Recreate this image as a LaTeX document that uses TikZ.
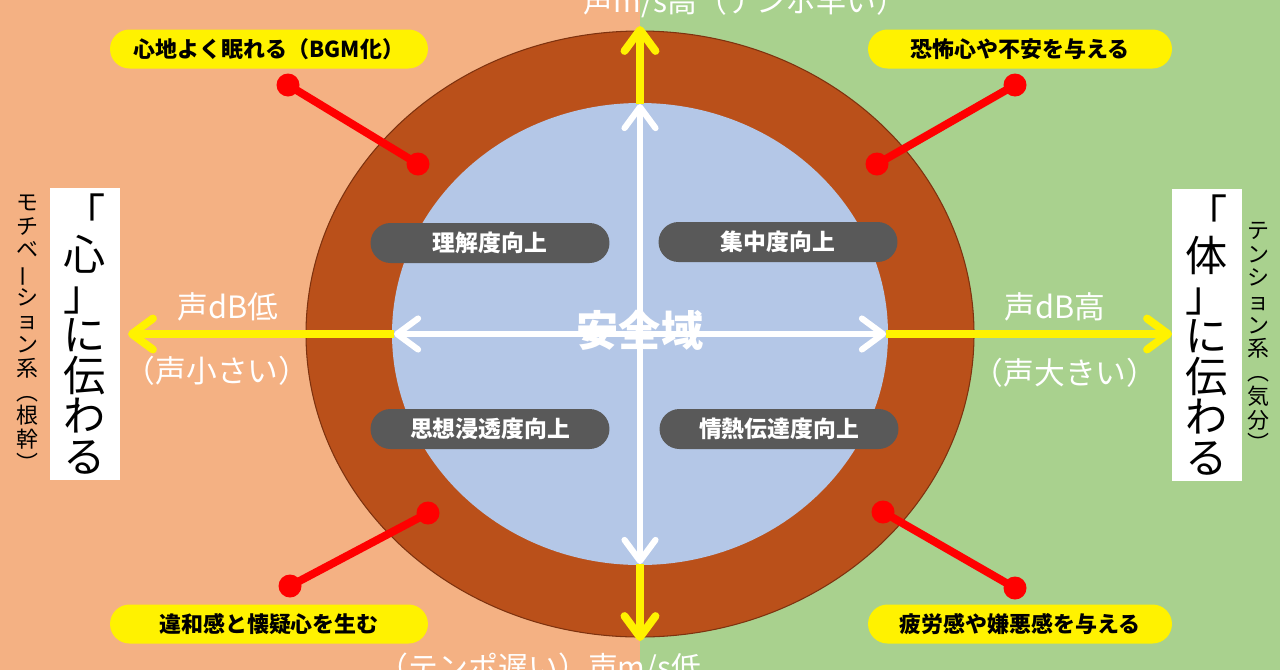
\documentclass[tikz,border=0pt]{standalone}
\usepackage{fontspec}
\setmainfont{Noto Sans CJK JP}
\usepackage{graphicx}
\usetikzlibrary{arrows.meta, positioning}
\definecolor{Salmon}{HTML}{F4B183}
\definecolor{Leaf}{HTML}{A9D18E}
\definecolor{SafeBlue}{HTML}{B4C7E7}
\definecolor{Ring}{RGB}{186,80,26}
\definecolor{RingDark}{RGB}{125,50,15}
\definecolor{PillGray}{HTML}{595959}

\begin{document}
\begin{tikzpicture}[x=0.02cm, y=-0.02cm,
                    pill/.style={rectangle, rounded corners=0.4cm, fill=PillGray, text=white, font=\fontsize{13}{15}\selectfont\bfseries, minimum width=4.78cm, minimum height=0.8cm},
                    callout/.style={rectangle, rounded corners=0.39cm, fill=yellow, font=\fontsize{12.5}{15}\selectfont\bfseries, minimum height=0.78cm},
                    vlabel/.style={text=white, font=\fontsize{17.5}{19}\selectfont},
                    vbox/.style={rectangle, fill=white, minimum width=1.4cm, minimum height=5.84cm, inner sep=0pt, align=center, font=\fontsize{24}{23}\selectfont},
                    sidetext/.style={align=center, inner sep=0pt, font=\fontsize{12.5}{13.5}\selectfont},
                    yarrow/.style={-{Straight Barb[round, length=0.42cm, width=0.62cm]}, line width=4.5pt, draw=yellow},
                    warrow/.style={{Straight Barb[round, length=0.42cm, width=0.62cm]}-{Straight Barb[round, length=0.42cm, width=0.62cm]}, line width=3.5pt, draw=white},
                    redline/.style={draw=red, line width=4.5pt},
                    reddot/.style={fill=red}
                ]
                    \useasboundingbox (0,0) rectangle (1280,670);
                    \fill[Salmon] (0,0) rectangle (640,670);
                    \fill[Leaf] (640,0) rectangle (1280,670);

                    % outer ring and safe zone
                    \filldraw[fill=Ring, draw=RingDark, line width=0.6pt] (640,334) ellipse [x radius=334, y radius=303];
                    \fill[SafeBlue] (640,334) ellipse [x radius=248, y radius=231];

                    \coordinate (wW) at (394,334);
                    \coordinate (wE) at (886,334);
                    \coordinate (wN) at (640,104);
                    \coordinate (wS) at (640,564);
                    \coordinate (yW) at (128,334);
                    \coordinate (yE) at (1172,334);
                    \coordinate (yN) at (640,26);
                    \coordinate (yS) at (640,641);

                    \draw[yarrow] (wW) -- (yW);
                    \draw[yarrow] (wE) -- (yE);
                    \draw[yarrow] (wN) -- (yN);
                    \draw[yarrow] (wS) -- (yS);
                    \draw[warrow] (wW) -- (wE);
                    \draw[warrow] (wN) -- (wS);

                    \node[pill] (rikai) at (490,243) {理解度向上};
                    \node[pill] (shuchu) at (778,242) {集中度向上};
                    \node[pill] (shiso) at (490,429) {思想浸透度向上};
                    \node[pill] (jonetsu) at (779,429) {情熱伝達度向上};

                    \node[text=white, font=\fontsize{24}{26}\selectfont\bfseries] (safe) at (640,330) {安全域};

                    \node[vlabel] (lowdb) at (228,307) {声dB低};
                    \node[vlabel] (quiet) at (217,371) {（声小さい）};
                    \node[vlabel] (highdb) at (1055,307) {声dB高};
                    \node[vlabel] (loud) at (1065,373) {（声大きい）};
                    \node[vlabel, font=\fontsize{17}{19}\selectfont] (fast) at (745,2) {声m/s高（テンポ早い）};
                    \node[vlabel, font=\fontsize{17}{19}\selectfont] (slow) at (540,668) {（テンポ遅い）声m/s低};

                    % red pointers
                    \coordinate (tlOut) at (288,85);
                    \coordinate (tlIn) at (418,164);
                    \coordinate (trOut) at (1015,85);
                    \coordinate (trIn) at (877,164);
                    \coordinate (blOut) at (290,586);
                    \coordinate (blIn) at (428,513);
                    \coordinate (brOut) at (1015,588);
                    \coordinate (brIn) at (883,512);
                    \foreach \a/\b in {tlOut/tlIn, trOut/trIn, blOut/blIn, brOut/brIn} {
                        \draw[redline] (\a) -- (\b);
                        \fill[reddot] (\a) circle [radius=11.5];
                        \fill[reddot] (\b) circle [radius=11.5];
                    }

                    \node[callout, minimum width=6.36cm] (sleep) at (269,49) {心地よく眠れる（BGM化）};
                    \node[callout, minimum width=6.08cm] (fear) at (1020,49) {恐怖心や不安を与える};
                    \node[callout, minimum width=6.36cm] (doubt) at (269,624) {違和感と懐疑心を生む};
                    \node[callout, minimum width=6.08cm] (fatigue) at (1020,624) {疲労感や嫌悪感を与える};

                    \node[vbox] (kokoro) at (85,334) {「\\心\\」\\に\\伝\\わ\\る};
                    \node[vbox] (karada) at (1207,335) {「\\体\\」\\に\\伝\\わ\\る};
                    \node[sidetext] (motiv) at (27,333) {モ\\チ\\ベ\\\rotatebox[origin=c]{90}{ー}\\シ\\ョ\\ン\\系\\︵\\根\\幹\\︶};
                    \node[sidetext] (tension) at (1258,337) {テ\\ン\\シ\\ョ\\ン\\系\\︵\\気\\分\\︶};
                \end{tikzpicture}
\end{document}
